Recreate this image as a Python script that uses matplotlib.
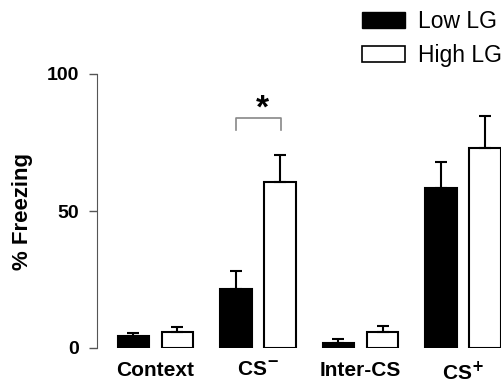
import matplotlib
matplotlib.use('Agg')
from matplotlib import pyplot as plt
from matplotlib.patches import Patch
import numpy as np

plt.rcParams['font.family'] = ['Liberation Sans', 'DejaVu Sans']

# data
groups = ['Context', 'CS$^{\\mathbf{-}}$', 'Inter-CS', 'CS$^{\\mathbf{+}}$']
low_lg = [4.5, 21.5, 2.0, 58.5]
low_err = [1.0, 6.5, 1.2, 9.5]
high_lg = [6.0, 60.5, 6.0, 73.0]
high_err = [1.5, 10.0, 2.2, 11.5]

fig = plt.figure(figsize=(5.01, 3.87), dpi=100)
ax = fig.add_axes([97/501, 39/387, 404/501, 274/387])

x = np.arange(len(groups))
w = 0.31
off = 0.215
ekw = dict(elinewidth=1.5, capthick=1.5, ecolor='black')
ax.bar(x - off, low_lg, w, color='black', edgecolor='black', linewidth=1.5,
       yerr=[[0] * 4, low_err], capsize=4.5, error_kw=ekw, label='Low LG')
ax.bar(x + off, high_lg, w, color='white', edgecolor='black', linewidth=1.5,
       yerr=[[0] * 4, high_err], capsize=4.5, error_kw=ekw, label='High LG')

ax.set_xlim(-0.57, 3.37)
ax.set_ylim(0, 100)
ax.set_yticks([0, 50, 100])
ax.set_yticklabels(['0', '50', '100'])
ax.set_xticks(x)
ax.set_xticklabels(groups)
ax.tick_params(axis='x', length=0, pad=9, labelsize=15)
ax.tick_params(axis='y', length=6, width=1, color='#555555', pad=7, labelsize=14)
for lab in ax.get_xticklabels() + ax.get_yticklabels():
    lab.set_fontweight('bold')
for s in ['top', 'right', 'bottom']:
    ax.spines[s].set_visible(False)
ax.spines['left'].set_color('#555555')
ax.set_ylabel('% Freezing', fontsize=16, fontweight='bold', labelpad=9.5)

# significance bracket
bx0, bx1 = 1 - 0.21, 1 + 0.22
ax.plot([bx0, bx0, bx1, bx1], [79.5, 84, 84, 79.5], color='#888888', lw=1.2, clip_on=False)
ax.text(1.04, 84.0, '*', ha='center', va='baseline', fontsize=24, fontweight='bold')

handles = [Patch(facecolor='black', edgecolor='black'),
           Patch(facecolor='white', edgecolor='black', linewidth=1.2)]
fig.legend(handles, ['Low LG', 'High LG'], loc='upper left',
           bbox_to_anchor=(362/501, 0.975), frameon=False, fontsize=16.5,
           borderpad=0, borderaxespad=0,
           handlelength=1.88, handleheight=0.7, handletextpad=0.57, labelspacing=0.48)

fig.savefig('out.png', dpi=100)
